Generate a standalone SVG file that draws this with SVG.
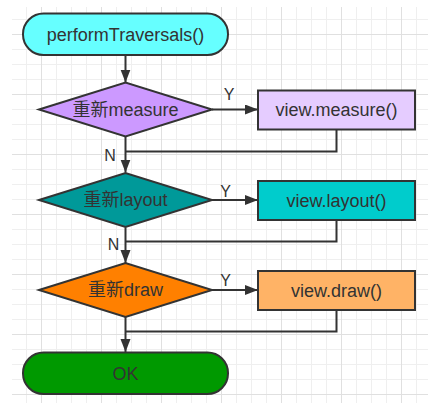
<svg xmlns="http://www.w3.org/2000/svg" width="435" height="410" viewBox="0 0 435 410">
  <defs>
    <pattern id="minor" patternUnits="userSpaceOnUse" x="12" y="5" width="15" height="15">
      <rect x="14" y="0" width="1" height="15" fill="#efefef"/>
      <rect x="0" y="14" width="15" height="1" fill="#efefef"/>
    </pattern>
    <pattern id="major" patternUnits="userSpaceOnUse" x="42" y="35" width="60" height="60">
      <rect x="59" y="0" width="1" height="60" fill="#e0e0e0"/>
      <rect x="0" y="59" width="60" height="1" fill="#e0e0e0"/>
    </pattern>
    <marker id="arrow" markerUnits="userSpaceOnUse" markerWidth="14" markerHeight="12" refX="13" refY="5" orient="auto">
      <path d="M0,0 L13,5 L0,10 Z" fill="#333333"/>
    </marker>
    <style>
      .node { stroke: #333333; stroke-width: 2; }
      .lbl { font-family: "Liberation Sans", Arial, "Noto Sans CJK SC", sans-serif; font-size: 18px; fill: #333333; text-anchor: middle; }
      .yn { font-family: "Liberation Sans", Arial, sans-serif; font-size: 16px; fill: #333333; text-anchor: middle; }
      .conn { stroke: #333333; stroke-width: 2; fill: none; }
    </style>
  </defs>
  <rect x="0" y="0" width="435" height="410" fill="#ffffff"/>
  <g id="grid" shape-rendering="crispEdges">
    <rect x="12" y="7" width="416" height="396" fill="url(#minor)"/>
    <rect x="12" y="7" width="416" height="396" fill="url(#major)"/>
  </g>

  <g id="connectors">
    <line class="conn" x1="125.5" y1="55" x2="125.5" y2="82.5" marker-end="url(#arrow)"/>
    <line class="conn" x1="212" y1="109.5" x2="258" y2="109.5" marker-end="url(#arrow)"/>
    <line class="conn" x1="125.5" y1="136.5" x2="125.5" y2="172.5" marker-end="url(#arrow)"/>
    <path class="conn" d="M336.5,129.5 V151.5 H125.5"/>
    <line class="conn" x1="212" y1="200" x2="258" y2="200" marker-end="url(#arrow)"/>
    <line class="conn" x1="125.5" y1="227.5" x2="125.5" y2="263" marker-end="url(#arrow)"/>
    <path class="conn" d="M336.5,220 V241.5 H125.5"/>
    <line class="conn" x1="212" y1="290" x2="258" y2="290" marker-end="url(#arrow)"/>
    <line class="conn" x1="125.5" y1="317" x2="125.5" y2="352" marker-end="url(#arrow)"/>
    <path class="conn" d="M336.5,310 V331.5 H125.5"/>
    <text class="yn" x="229" y="100">Y</text>
    <text class="yn" x="110" y="161">N</text>
    <text class="yn" x="225.5" y="197">Y</text>
    <text class="yn" x="113.5" y="250">N</text>
    <text class="yn" x="225.5" y="286">Y</text>
  </g>

  <g id="start">
    <rect class="node" x="23" y="13.5" width="205" height="41.5" rx="20.5" fill="#66ffff"/>
    <text class="lbl" x="125.5" y="40.5">performTraversals()</text>
  </g>
  <g id="measureDecision">
    <polygon class="node" points="39,109.5 125.5,82.5 212,109.5 125.5,136.5" fill="#cc99ff"/>
    <text class="lbl" x="125.5" y="115.5">重新measure</text>
  </g>
  <g id="measureBox">
    <rect class="node" x="258" y="90.5" width="157" height="39" fill="#e5ccff"/>
    <text class="lbl" x="336.5" y="116">view.measure()</text>
  </g>
  <g id="layoutDecision">
    <polygon class="node" points="39,200 125.5,173 212,200 125.5,227" fill="#009999"/>
    <text class="lbl" x="125.5" y="206">重新layout</text>
  </g>
  <g id="layoutBox">
    <rect class="node" x="258" y="181" width="157" height="39" fill="#00cccc"/>
    <text class="lbl" x="336.5" y="206.5">view.layout()</text>
  </g>
  <g id="drawDecision">
    <polygon class="node" points="39,290 125.5,263 212,290 125.5,317" fill="#ff8000"/>
    <text class="lbl" x="125.5" y="296">重新draw</text>
  </g>
  <g id="drawBox">
    <rect class="node" x="258" y="271" width="157" height="39" fill="#ffb366"/>
    <text class="lbl" x="336.5" y="296.5">view.draw()</text>
  </g>
  <g id="ok">
    <rect class="node" x="23" y="352.5" width="205" height="41.5" rx="20.5" fill="#009900"/>
    <text class="lbl" x="125.5" y="379.5">OK</text>
  </g>
</svg>
